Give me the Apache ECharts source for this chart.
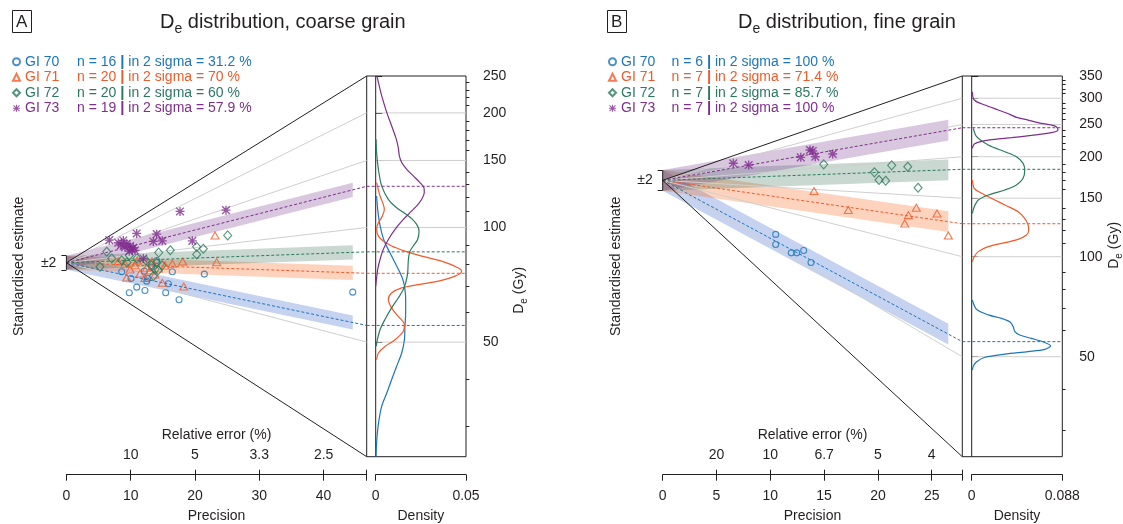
<!DOCTYPE html>
<html><head><meta charset="utf-8">
<script src="https://cdn.jsdelivr.net/npm/echarts@6/dist/echarts.min.js"></script>
<style>html,body{margin:0;padding:0;background:#fff}#c{width:1123px;height:524px}</style>
</head><body><div id="c"></div>
<script>
// ================= DATA =================
const samples = ['GI 70', 'GI 71', 'GI 72', 'GI 73'];
const sampleColors = ['#1c75bc', '#f15a29', '#2b7a5e', '#7f2d8e'];
const bandColors = ['rgba(40,90,200,0.27)', 'rgba(250,110,40,0.30)', 'rgba(40,100,70,0.25)', 'rgba(120,50,140,0.28)'];

// ---- Panel A: coarse grain ----
const coarseN = [16, 20, 20, 19];
const coarseIn2Sigma = ['31.2', '70', '60', '57.9'];
const coarseCentralDe = [55.3, 75.8, 86.3, 128.3];
const coarseOriginDe = 80.8;
const coarseDeRange = [25, 250];
const coarseDeTicks = [50, 100, 150, 200, 250];
const coarseDeMinorTicks = [30, 40, 60, 70, 80, 90, 110, 120, 130, 140, 160, 170, 180, 190, 210, 220, 230, 240];
const coarseGreyDe = [50, 100, 150, 200];
const coarsePrecisionTicks = [0, 10, 20, 30, 40];
const coarseRelErrTicks = [10, 20, 30, 40];
const coarsePrecisionMax = 46.7;
const coarseDensityTicks = [0, 0.05];

const coarseGI70Precision = [8.60, 10.05, 10.94, 9.78, 12.22, 12.49, 15.44, 17.52, 15.85, 16.47, 21.45, 44.53, 14.04, 12.12, 13.27, 12.61];
const coarseGI70StdEst = [-2.54, -4.44, -6.89, -8.47, -7.82, -5.20, -8.47, -10.45, -5.93, -2.54, -3.21, -8.30, 0.65, -2.37, -1.24, -4.44];
const coarseGI71Precision = [23.11, 18.08, 23.37, 16.47, 9.11, 10.67, 12.49, 13.00, 14.29, 9.38, 12.22, 14.91, 18.25, 11.03, 8.07, 11.45, 13.31, 15.34, 9.89, 13.78];
const coarseGI71StdEst = [7.71, 0.37, 0.17, -0.28, -0.28, -0.68, -1.41, -2.18, -1.61, -4.15, -4.32, -5.68, -6.72, 0.65, 0.37, -3.02, 0.37, -0.76, -1.89, -3.30];
const coarseGI72Precision = [6.27, 7.05, 5.22, 8.60, 9.78, 14.35, 16.16, 20.26, 21.29, 20.26, 25.08, 13.27, 13.79, 14.29, 13.52, 14.04, 10.98, 12.38, 14.87, 9.42];
const coarseGI72StdEst = [3.11, 1.21, -1.13, 0.65, 2.06, 2.88, 3.53, 4.49, 3.95, 2.35, 7.71, -0.76, -1.89, -2.09, -3.76, 0.00, 1.21, 0.65, -0.76, 0.08];
const coarseGI73Precision = [6.67, 8.07, 8.85, 8.49, 9.11, 9.38, 9.89, 10.15, 10.41, 9.78, 10.67, 10.93, 14.04, 13.52, 14.91, 17.67, 24.82, 19.58, 11.96];
const coarseGI73StdEst = [6.38, 5.65, 6.30, 4.97, 4.41, 5.37, 4.69, 3.76, 4.24, 3.28, 3.47, 8.28, 8.08, 6.02, 6.19, 14.49, 14.86, 6.19, 1.21];

const coarseKdeGI70De = [121, 111.6, 105, 96.9, 91.2, 85.8, 80.8, 76, 72.3, 68.7, 64.7, 59.6, 55, 50.7, 46.8, 43.2, 39.8, 36.7, 33.9, 31.2, 28.8, 26.6, 25];
const coarseKdeGI70Density = [0.0005, 0.0011, 0.0018, 0.0033, 0.0051, 0.0079, 0.0107, 0.0135, 0.0153, 0.0162, 0.0166, 0.0166, 0.0162, 0.0159, 0.0144, 0.0116, 0.0088, 0.0061, 0.0033, 0.0018, 0.0009, 0.0004, 0.0002];
const coarseKdeGI71De = [131.2, 121, 115, 111.6, 107.2, 102.9, 98.9, 94.9, 92.1, 89.4, 86.7, 84.1, 81.6, 78.3, 76.8, 74.5, 72.3, 70.8, 69.4, 67.3, 64.7, 61.5, 58.4, 55.6, 53.4, 50.7, 48.7, 46.8, 44.9];
const coarseKdeGI71Density = [0.0005, 0.0024, 0.0042, 0.0048, 0.0037, 0.0015, 0.0005, 0.0015, 0.0042, 0.0088, 0.0162, 0.0255, 0.0365, 0.0458, 0.0476, 0.0439, 0.0347, 0.0236, 0.0144, 0.0088, 0.0070, 0.0088, 0.0125, 0.0159, 0.0153, 0.0107, 0.0051, 0.0015, 0.0005];
const coarseKdeGI72De = [170.6, 157.4, 142.2, 128.6, 118.6, 112.7, 108.9, 105.5, 101.9, 97.9, 93, 89.4, 86.7, 82.4, 76, 71.5, 68.7, 65.3, 61.5, 57.3, 53.9, 50.7, 48.7];
const coarseKdeGI72Density = [0.0002, 0.0005, 0.0015, 0.0033, 0.0070, 0.0116, 0.0162, 0.0199, 0.0227, 0.0240, 0.0232, 0.0208, 0.0190, 0.0181, 0.0177, 0.0166, 0.0153, 0.0125, 0.0088, 0.0051, 0.0024, 0.0009, 0.0002];
const coarseKdeGI73De = [250, 240.6, 221.9, 200.6, 185, 172.4, 162.2, 154.2, 148.1, 142.2, 136.6, 131.2, 127.3, 123.5, 118.6, 113.9, 109.4, 105, 98.9, 93, 87.6, 82.4, 77.6, 73, 70.1];
const coarseKdeGI73Density = [0.0007, 0.0015, 0.0033, 0.0061, 0.0088, 0.0111, 0.0125, 0.0131, 0.0144, 0.0172, 0.0208, 0.0245, 0.0267, 0.0269, 0.0255, 0.0227, 0.0190, 0.0153, 0.0107, 0.0070, 0.0042, 0.0024, 0.0011, 0.0004, 0];

// ---- Panel B: fine grain ----
const fineN = [6, 7, 7, 7];
const fineIn2Sigma = ['100', '71.4', '85.7', '100'];
const fineCentralDe = [55.5, 125.7, 183.3, 244.5];
const fineOriginDe = 169.8;
const fineDeRange = [25, 350];
const fineDeTicks = [50, 100, 150, 200, 250, 300, 350];
const fineDeMinorTicks = [30, 40, 60, 70, 80, 90, 110, 120, 130, 140, 160, 170, 180, 190, 210, 220, 230, 240, 260, 270, 280, 290, 310, 320, 330, 340];
const fineGreyDe = [50, 100, 150, 200, 250, 300];
const finePrecisionTicks = [0, 5, 10, 15, 20, 25];
const fineRelErrTicks = [5, 10, 15, 20, 25];
const finePrecisionMax = 27.84;
const fineDensityTicks = [0, 0.088];

const fineGI70Precision = [10.50, 10.50, 11.95, 12.45, 13.10, 13.78];
const fineGI70StdEst = [-10.43, -12.37, -13.99, -13.99, -13.53, -15.85];
const fineGI71Precision = [14.06, 17.25, 22.49, 22.83, 23.57, 25.49, 26.54];
const fineGI71StdEst = [-2.07, -5.74, -8.31, -6.71, -5.29, -6.38, -10.63];
const fineGI72Precision = [14.96, 19.67, 20.10, 20.72, 21.28, 22.77, 23.73];
const fineGI72StdEst = [3.09, 1.55, 0.06, -0.08, 2.90, 2.63, -1.43];
const fineGI73Precision = [6.56, 7.99, 12.83, 13.69, 13.94, 14.18, 15.80];
const fineGI73StdEst = [3.29, 2.96, 4.44, 5.86, 5.66, 4.56, 5.08];

const fineKdeGI70De = [74.1, 69.4, 66.8, 65.2, 63.7, 61.6, 59.5, 58.1, 56.8, 55.2, 53.9, 52.6, 51.8, 50.9, 49.8, 48.3, 46.9, 45.6];
const fineKdeGI70Density = [0.0006, 0.0048, 0.0161, 0.0290, 0.0370, 0.0403, 0.0419, 0.0467, 0.0580, 0.0709, 0.0767, 0.0709, 0.0548, 0.0322, 0.0129, 0.0048, 0.0016, 0.0006];
const fineKdeGI71De = [170.2, 160.6, 155.2, 148.2, 142.4, 136.6, 130.5, 124.6, 120.3, 116.2, 112.8, 110.2, 107.2, 103.6, 100, 96.6];
const fineKdeGI71Density = [0.0006, 0.0025, 0.0096, 0.0225, 0.0338, 0.0451, 0.0515, 0.0548, 0.0554, 0.0532, 0.0451, 0.0322, 0.0161, 0.0064, 0.0025, 0.0006];
const fineKdeGI72De = [243.5, 229.8, 216.9, 207.1, 200, 191, 182.4, 172.2, 164.4, 158.8, 153.4, 148.2, 141.5, 135.1];
const fineKdeGI72Density = [0.0016, 0.0048, 0.0161, 0.0322, 0.0435, 0.0499, 0.0515, 0.0499, 0.0435, 0.0322, 0.0161, 0.0064, 0.0025, 0.0006];
const fineKdeGI73De = [313.9, 296.3, 286.2, 276.5, 268.3, 262.8, 257.9, 252.1, 249.2, 246.3, 240.7, 236.3, 231.9, 228.2, 225.6, 222.5, 218.4, 212];
const fineKdeGI73Density = [0.0006, 0.0025, 0.0129, 0.0258, 0.0370, 0.0435, 0.0548, 0.0677, 0.0773, 0.0822, 0.0838, 0.0773, 0.0580, 0.0387, 0.0225, 0.0096, 0.0025, 0.0006];

// ================= CHART =================
const FONT = '"Liberation Sans", Arial, Helvetica, sans-serif';
const INK = '#231f20';
const GREY = '#cfcfcf';
const LN = Math.log;
const ASTERISK = 'path://M8.5,0L11.5,0L11.5,20L8.5,20Z M0,8.5L20,8.5L20,11.5L0,11.5Z M2.56,0.44L19.56,17.44L17.44,19.56L0.44,2.56Z M17.44,0.44L19.56,2.56L2.56,19.56L0.44,17.44Z';
const symbols = ['circle', 'triangle', 'diamond', ASTERISK];
const symbolSizes = [6, [8, 7], [8, 9], 9];

function fmtRel(v) { return String(Math.round(1000 / v) / 10); }

const panels = [
  {
    key: 'A', title: ' distribution, coarse grain',
    radialLeft: 66.4, arc: 366.7, densZero: 375.7, kdeRight: 466,
    top: 76, bottom: 456.7,
    xm: coarsePrecisionMax, originDe: coarseOriginDe, deRange: coarseDeRange,
    deTicks: coarseDeTicks, deMinor: coarseDeMinorTicks, greyDe: coarseGreyDe,
    precTicks: coarsePrecisionTicks, relTicks: coarseRelErrTicks, densTicks: coarseDensityTicks,
    central: coarseCentralDe,
    prec: [coarseGI70Precision, coarseGI71Precision, coarseGI72Precision, coarseGI73Precision],
    std: [coarseGI70StdEst, coarseGI71StdEst, coarseGI72StdEst, coarseGI73StdEst],
    kdeDe: [coarseKdeGI70De, coarseKdeGI71De, coarseKdeGI72De, coarseKdeGI73De],
    kdeDens: [coarseKdeGI70Density, coarseKdeGI71Density, coarseKdeGI72Density, coarseKdeGI73Density],
    n: coarseN, sig: coarseIn2Sigma,
    boxLeft: 12, titleLeft: 160, legendLeft: 12, gW: 52, deNameGap: 53, deNamePad: [0, 48, 0, 0]
  },
  {
    key: 'B', title: ' distribution, fine grain',
    radialLeft: 662.7, arc: 962.3, densZero: 971.7, kdeRight: 1062.3,
    top: 76, bottom: 456.7,
    xm: finePrecisionMax, originDe: fineOriginDe, deRange: fineDeRange,
    deTicks: fineDeTicks, deMinor: fineDeMinorTicks, greyDe: fineGreyDe,
    precTicks: finePrecisionTicks, relTicks: fineRelErrTicks, densTicks: fineDensityTicks,
    central: fineCentralDe,
    prec: [fineGI70Precision, fineGI71Precision, fineGI72Precision, fineGI73Precision],
    std: [fineGI70StdEst, fineGI71StdEst, fineGI72StdEst, fineGI73StdEst],
    kdeDe: [fineKdeGI70De, fineKdeGI71De, fineKdeGI72De, fineKdeGI73De],
    kdeDens: [fineKdeGI70Density, fineKdeGI71Density, fineKdeGI72Density, fineKdeGI73Density],
    n: fineN, sig: fineIn2Sigma,
    boxLeft: 607, titleLeft: 738, legendLeft: 608, gW: 50.5, deNameGap: 51.5, deNamePad: [0, 0, 0, 42]
  }
];

const grid = [], xAxis = [], yAxis = [], series = [], title = [], legend = [];
const txt = { fontFamily: FONT, fontSize: 14, color: INK };

function seg(xi, yi, data, color, width, dash, z, clip) {
  return { type: 'line', xAxisIndex: xi, yAxisIndex: yi, data, symbol: 'none', silent: true,
    animation: false, z, clip: clip !== false, lineStyle: { color, width, type: dash || 'solid' },
    emphasis: { disabled: true } };
}

panels.forEach((P) => {
  const g0 = grid.length;
  const h = P.bottom - P.top;
  const densMax = P.densTicks[1];
  const kdeMin = -densMax * (P.densZero - P.arc) / (P.kdeRight - P.densZero);
  const yMin = LN(P.deRange[0]), yMax = LN(P.deRange[1]);
  const z0 = LN(P.originDe);
  const xm = P.xm;
  grid.push({ left: P.radialLeft, top: P.top, width: P.arc - P.radialLeft, height: h, show: false, outerBoundsMode: 'none' });
  grid.push({ left: P.arc, top: P.top, width: P.kdeRight - P.arc, height: h, show: true, borderColor: INK, borderWidth: 1, backgroundColor: 'transparent', outerBoundsMode: 'none' });
  grid.push({ left: P.densZero, top: P.top, width: P.kdeRight - P.densZero, height: h, show: false, outerBoundsMode: 'none' });
  const x0 = xAxis.length, y0 = yAxis.length;

  xAxis.push({ gridIndex: g0, type: 'value', min: 0, max: xm, position: 'bottom', offset: 18,
    axisLine: { lineStyle: { color: INK, width: 1 } },
    axisTick: { length: 6, customValues: P.precTicks.concat([xm]), lineStyle: { color: INK } },
    axisLabel: { ...txt, customValues: P.precTicks, margin: 21, verticalAlign: 'middle' },
    splitLine: { show: false },
    name: 'Precision', nameLocation: 'middle', nameGap: 41.7,
    nameTextStyle: { ...txt, verticalAlign: 'middle' } });
  xAxis.push({ gridIndex: g0, type: 'value', min: 0, max: xm, position: 'bottom', offset: 18,
    axisLine: { show: false },
    axisTick: { inside: true, length: 5, customValues: P.relTicks.concat([xm]), lineStyle: { color: INK } },
    axisLabel: { ...txt, inside: true, customValues: P.relTicks, formatter: fmtRel, margin: 19.3, verticalAlign: 'middle' },
    splitLine: { show: false },
    name: 'Relative error (%)', nameLocation: 'middle', nameGap: -39.3,
    nameTextStyle: { ...txt, verticalAlign: 'middle' } });
  xAxis.push({ gridIndex: g0 + 1, type: 'value', min: kdeMin, max: densMax, show: false });
  xAxis.push({ gridIndex: g0 + 2, type: 'value', min: 0, max: densMax, position: 'bottom', offset: 18,
    axisLine: { lineStyle: { color: INK, width: 1 } },
    axisTick: { length: 6, customValues: P.densTicks, lineStyle: { color: INK } },
    axisLabel: { ...txt, customValues: P.densTicks, margin: 21, verticalAlign: 'middle', formatter: v => String(v) },
    splitLine: { show: false },
    name: 'Density', nameLocation: 'middle', nameGap: 41.7,
    nameTextStyle: { ...txt, verticalAlign: 'middle' } });

  yAxis.push({ gridIndex: g0, type: 'value', min: yMin, max: yMax, position: 'left',
    axisLine: { show: false },
    axisTick: { length: 5, customValues: [z0 - 2 / xm, z0 + 2 / xm], lineStyle: { color: INK } },
    axisLabel: { ...txt, customValues: [z0], formatter: () => '±2', margin: 10 },
    splitLine: { show: false },
    name: 'Standardised estimate', nameLocation: 'middle', nameGap: 47, nameRotate: 90,
    nameTextStyle: { ...txt, verticalAlign: 'middle' } });
  yAxis.push({ gridIndex: g0 + 1, type: 'value', min: yMin, max: yMax, position: 'right',
    axisLine: { show: false },
    axisTick: { length: 6.5, customValues: P.deTicks.map(LN), lineStyle: { color: INK } },
    axisLabel: { ...txt, customValues: P.deTicks.map(LN), formatter: v => String(Math.round(Math.exp(v))), margin: 17 },
    splitLine: { show: false },
    name: '{m|D}{s|e}{m| (Gy)}', nameLocation: 'middle', nameGap: P.deNameGap, nameRotate: 90,
    nameTextStyle: { ...txt, verticalAlign: 'middle', padding: P.deNamePad,
      rich: { m: { fontFamily: FONT, fontSize: 14, color: INK, lineHeight: 20 },
              s: { fontFamily: FONT, fontSize: 10, color: INK, lineHeight: 10, verticalAlign: 'bottom' } } } });
  yAxis.push({ gridIndex: g0 + 1, type: 'value', min: yMin, max: yMax, position: 'right',
    axisLine: { show: false },
    axisTick: { length: 3.3, customValues: P.deMinor.map(LN), lineStyle: { color: INK } },
    axisLabel: { show: false }, splitLine: { show: false } });
  yAxis.push({ gridIndex: g0 + 2, type: 'value', min: yMin, max: yMax, show: false });

  const xR = x0, yR = y0, xK = x0 + 2, yK = y0 + 1, xD = x0 + 3, yD = y0 + 3;

  const pmax = Math.max(...P.prec.map(a => Math.max(...a)));
  P.central.forEach((c, i) => {
    series.push({ type: 'custom', xAxisIndex: xR, yAxisIndex: yR, silent: true, animation: false, z: 1,
      data: [[pmax, LN(c)]],
      renderItem: (params, api) => {
        const hw = 2 / xm;
        const px = api.value(0);
        const yc = z0 + (api.value(1) - z0) * px / xm;
        const pts = [api.coord([0, z0 + hw]), api.coord([px, yc + hw]), api.coord([px, yc - hw]), api.coord([0, z0 - hw])];
        return { type: 'polygon', shape: { points: pts }, style: { fill: bandColors[i] } };
      } });
  });
  P.greyDe.forEach(d => {
    series.push(seg(xR, yR, [[0, z0], [xm, LN(d)]], GREY, 1, 'solid', 2));
    series.push(seg(xK, yK, [[0, LN(d)], [densMax, LN(d)]], GREY, 1, 'solid', 2));
  });
  P.central.forEach((c, i) => {
    series.push(seg(xR, yR, [[0, z0], [xm, LN(c)]], sampleColors[i], 1, [3, 2], 3));
    series.push(seg(xK, yK, [[kdeMin, LN(c)], [densMax, LN(c)]], sampleColors[i], 1, [3, 2], 3));
  });
  series.push(seg(xR, yR, [[xm, yMax], [0, z0], [xm, yMin]], INK, 1, 'solid', 4, false));
  series.push(seg(xR, yR, [[0, z0 - 2 / xm], [0, z0 + 2 / xm]], INK, 1, 'solid', 4, false));
  series.push(seg(xK, yK, [[0, yMin], [0, yMax]], INK, 1, 'solid', 4, false));
  P.kdeDe.forEach((arr, i) => {
    series.push({ type: 'line', xAxisIndex: xK, yAxisIndex: yK, symbol: 'none', silent: true, animation: false,
      smooth: 0.3, z: 4, lineStyle: { color: sampleColors[i], width: 1.2 },
      data: arr.map((d, k) => [P.kdeDens[i][k], LN(d)]) });
  });
  P.prec.forEach((arr, i) => {
    const isStar = i === 3;
    series.push({ type: 'scatter', name: samples[i], xAxisIndex: xR, yAxisIndex: yR, z: 5, animation: false,
      symbol: symbols[i], symbolSize: symbolSizes[i],
      itemStyle: isStar ? { color: sampleColors[i] } : { color: 'rgba(0,0,0,0)', borderColor: sampleColors[i], borderWidth: 1.1 },
      data: arr.map((p, k) => [p, z0 + P.std[i][k] / xm]) });
  });
  series.push({ type: 'scatter', xAxisIndex: xD, yAxisIndex: yD, data: [], silent: true });

  title.push({ text: P.key, left: P.boxLeft, top: 10, borderColor: INK, borderWidth: 1, padding: [3, 4, 2, 4],
    textStyle: { fontFamily: FONT, fontSize: 17, fontWeight: 'normal', color: INK, lineHeight: 18 } });
  title.push({ text: '{m|D}{s|e}{m|' + P.title + '}', left: P.titleLeft, top: 8, padding: 0,
    textStyle: { fontFamily: FONT, fontWeight: 'normal', color: INK,
      rich: { m: { fontFamily: FONT, fontSize: 20, color: INK, lineHeight: 28 },
              s: { fontFamily: FONT, fontSize: 14, color: INK, lineHeight: 14, verticalAlign: 'bottom' } } } });

  legend.push({ orient: 'vertical', left: P.legendLeft, top: 54, itemGap: 0, itemWidth: 7, itemHeight: 7,
    selectedMode: false, padding: 0,
    data: samples.map((s, i) => ({ name: s, textStyle: { color: sampleColors[i] } })),
    formatter: name => {
      const i = samples.indexOf(name);
      return '{g|' + name + '}{n|n = ' + P.n[i] + ' }{b||}{n| in 2 sigma = ' + P.sig[i] + ' %}';
    },
    textStyle: { fontFamily: FONT, fontSize: 14, lineHeight: 15.5,
      rich: { g: { width: P.gW, fontFamily: FONT, fontSize: 14, lineHeight: 15.5 },
              n: { fontFamily: FONT, fontSize: 14, lineHeight: 15.5 },
              b: { fontFamily: FONT, fontSize: 15, fontWeight: 'bold', lineHeight: 15.5 } } } });
});

const chart = echarts.init(document.getElementById('c'), null, { renderer: 'canvas' });
chart.setOption({ animation: false, backgroundColor: '#fff', textStyle: { fontFamily: FONT },
  title, legend, grid, xAxis, yAxis, series, tooltip: { show: false } });
</script></body></html>
